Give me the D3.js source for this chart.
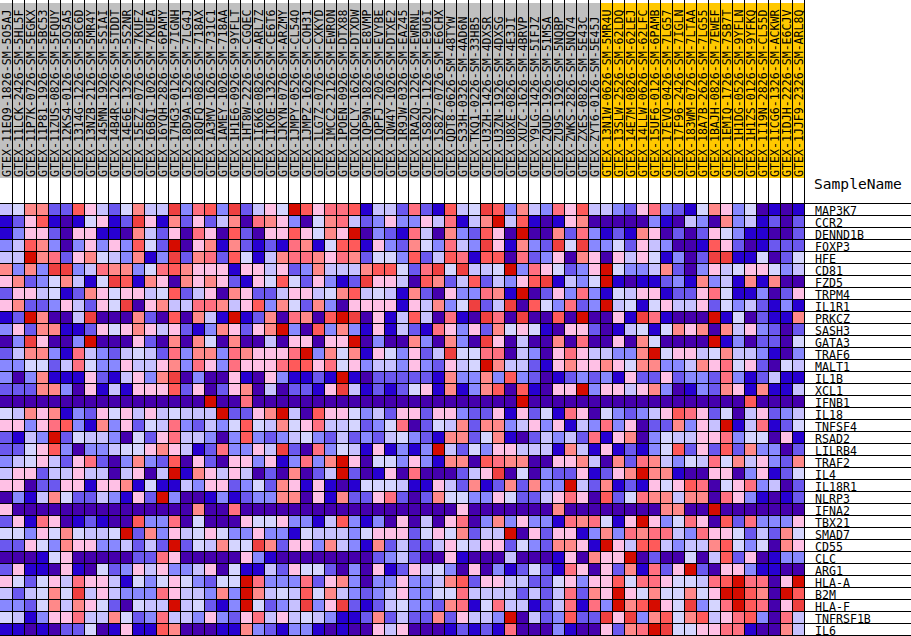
<!DOCTYPE html>
<html>
<head>
<meta charset="utf-8">
<script src="https://d3js.org/d3.v7.min.js"></script>
<style>
	body { margin: 0; background: #fff; }
	svg { display: block; }
	text { font-family: "DejaVu Sans Mono", monospace; fill: #000; }
</style>
</head>
<body>
<script>
// first group of samples, grey header
var samplesA = ["GTEX-11EQ9-1826-SM-5O5AJ","GTEX-11LCK-2426-SM-5HL5F","GTEX-11P7K-0726-SM-5EGKX","GTEX-11P81-1926-SM-5BC53","GTEX-11ZUS-0826-SM-5FQUY","GTEX-12KS4-0126-SM-5O5A5","GTEX-1314G-1226-SM-5BC6D","GTEX-13NZB-2126-SM-5MR4Y","GTEX-145MN-1926-SM-5SIAI","GTEX-14B4R-1226-SM-5TDDT","GTEX-14E6E-1326-SM-5S2NR","GTEX-15EZZ-0726-SM-7KUFZ","GTEX-16BQI-1026-SM-7KUEA","GTEX-16YQH-2826-SM-6PAMY","GTEX-17HG3-0126-SM-7IGNH","GTEX-18D9A-1526-SM-7LG4J","GTEX-18QFQ-0826-SM-718AX","GTEX-1A3MV-1626-SM-731C1","GTEX-1AMEY-1026-SM-718AA","GTEX-1H1E6-0926-SM-9YFLT","GTEX-1HT8W-2226-SM-CGQEC","GTEX-1I6K6-0826-SM-ARL7Z","GTEX-1IKOE-1326-SM-CE6T6","GTEX-1JKYN-0726-SM-ARZMY","GTEX-1JMPY-0526-SM-CL54O","GTEX-1JMPZ-1626-SM-COH31","GTEX-1LG7Z-0726-SM-CXKYD","GTEX-1MCC2-2126-SM-EWRON","GTEX-1POEN-0926-SM-DTX88","GTEX-1QCLY-1626-SM-DTXDW","GTEX-1QP9N-1826-SM-E8VMP","GTEX-1QPFJ-2026-SM-EVYBE","GTEX-1QW4Y-1026-SM-DTXE2","GTEX-1R9JW-0326-SM-EAZ45","GTEX-1RAZQ-1226-SM-EWRNL","GTEX-1S82U-1126-SM-E9U6I","GTEX-1S827-0726-SM-E6CHX","GTEX-QDT8-0626-SM-48TYW","GTEX-S33H-0326-SM-4AD6N","GTEX-TKQ1-0226-SM-33HB5","GTEX-U3ZH-1426-SM-4DXSR","GTEX-U3ZN-1926-SM-4DXSG","GTEX-U8XE-0826-SM-4E3JI","GTEX-XUZC-1626-SM-4BRVP","GTEX-Y9LG-1426-SM-5IFJZ","GTEX-ZQUD-1926-SM-51MSA","GTEX-ZU9S-1926-SM-5NQBP","GTEX-ZWKS-2826-SM-5NQ74","GTEX-ZXES-0826-SM-5E43C","GTEX-ZYT6-0126-SM-5E45J"];

// second group, orange header
var samplesB = ["GTEX-13N1W-0626-SM-5MR4U","GTEX-13SLW-2526-SM-62LDQ","GTEX-14E7M-0826-SM-62LEJ","GTEX-14LLW-0626-SM-62LFC","GTEX-15UF6-0126-SM-6PAMB","GTEX-17EVQ-0426-SM-7LG57","GTEX-17F96-2426-SM-7IGLN","GTEX-183WM-0726-SM-7LTAA","GTEX-18A7B-2626-SM-7LG55","GTEX-1BAJH-0826-SM-7EWEF","GTEX-1EMIQ-1726-SM-7SB7T","GTEX-1H1DG-0526-SM-9YFLN","GTEX-1H1ZS-0126-SM-9YFKQ","GTEX-1I19N-2826-SM-CL55D","GTEX-1ICG6-1326-SM-ACKWR","GTEX-1IDJH-2226-SM-E6CJV","GTEX-1JJF9-2326-SM-ARL8Q"];

var genes = ["MAP3K7","CCR2","DENND1B","FOXP3","HFE","CD81","FZD5","TRPM4","IL1R1","PRKCZ","SASH3","GATA3","TRAF6","MALT1","IL1B","XCL1","IFNB1","IL18","TNFSF4","RSAD2","LILRB4","TRAF2","IL4","IL18R1","NLRP3","IFNA2","TBX21","SMAD7","CD55","CLC","ARG1","HLA-A","B2M","HLA-F","TNFRSF1B","IL6"];

// colour level per cell, one hex digit per sample (0 = lowest, B = highest)
var levels = [
	"45772296425744A3893A246 5B968891442821945A9374 3869443268321576350101",
	"12691015612A61726247087 630578423633648147B491 0167000003104307341202",
	"13662066110742608609206 696576B0321840732960B0 0728312176020265311002",
	"34973036363952B06717212 18715991632753843A6173 2A5A335264300196201222",
	"44B78267543713A27829514 788768725539249819908 2 3607606465130 2AA115025",
	"7373AA34877358976661664 6237444799528A5A445B38 65236B5334720364566534",
	"672357415A9176076762165 9526312A66409724924369 A1435B1011231734171700",
	"26645127656645924607622 46645794541720633871B0 263831546612268511 3026",
	"6722364265A067448874693 7527306666164735A24A09 53823B4515644625342131",
	"12B7004A00072090741B127 08709BA0614940810A80A0 090B0061A8100 0B1502117",
	"36277112656764621376267 B3093731614218636275 65 106620145157670746 3202",
	"03A6003B00062070750700 4 066066B0300730730A6040 0708006075 0000B1302205",
	"24773184324542837738766 68B37571653624A5588043 068644337B566457443103",
	"33552485336446738638666 89968563443632645B7442 167667657733476856 2054",
	"30371116214637A03006106 31121B1022222173373932 012323162262332831 2411",
	"22277306141666926026704 02216A41212561713790 91 066B366467301327617114",
	"00000000000000000B00800 0000000000000000 0000B0 000000000000000009 0000",
	"547671326564645444B2267 B40966534266266322 6162 518605323469862504 6234",
	"66368931736254832435954 75684452358025472773 46 361438360227364B148125",
	"2143B25443052684430393 2 345324232453217725 7102 434281670354466835 5061",
	"22569303345567641283364 A208354161313B425366 44 417416121359262927 3302",
	"34564268203732906206636 13837B60553631770987 70 066740728743548574 6327",
	"46624464404604B17646402 07024B201608000246A0 50 32261267B771006603 6125",
	"66022661667151143662352 76161015554116427127 27 33B427121656980568 3402",
	"03147522431 62B300131233 7706172268202755336522 468609258774770863 1012",
	"60000000000000007008000 0000000000000006 000000 070000000077 00B0000000",
	"26186012100933805000655 6331493130604068037363 31878516B6358609283336",
	"5536575445B273645653363 3154443566625657244B06 266137387884386652 4275",
	"22653766334242B254755A7 266374317242246546 6253 27761B64994344795350 76",
	"00015600000228600000631 000000002342006100 0400 0160766B020050492601 33",
	"26110610523646334605114 265520306126453060 3125 218606271826B2066311 00",
	"65256486641535653255B83 338267303363347926 6442 2563669588655489B880 6B",
	"424575A4643338644373B74 549574323463355844 4424 248276B65755756BB970 B9",
	"33257476520544B45213B52 34A36A212453327815 8441 248183B79B65A358B980 6A",
	"54136684475238443632684 645431127242272644 3B04 23922A6A379579468930 84",
	"11010225016119700011732 133101006460001212 1800 031006278BA55668810074"
];

var palette = ["#4500AD","#2700D1","#6B58EF","#8888FF","#C7C1FF","#D5D5FF","#FFC0E5","#FF8989","#FF7080","#FF5A5A","#EF4040","#D60C00"];

var samples = samplesA.concat(samplesB);

var cells = [];
genes.forEach(function(g, r) {
	var row = levels[r].replace(/\s/g, "");
	samples.forEach(function(s, c) {
		cells.push({gene: g, sample: s, level: parseInt(row[c], 16)});
	});
});

var svg = d3.select("body")
	.append("svg")
	.attr("width", 911)
	.attr("height", 636);

var x = d3.scaleBand().domain(samples).range([0, 804]);
var y = d3.scaleBand().domain(genes).range([203, 635]);
var color = d3.scaleOrdinal().domain(d3.range(12)).range(palette);

// header boxes with the rotated sample names
var header = svg.selectAll("g.sample")
	.data(samples)
	.enter()
	.append("g")
	.attr("class", "sample")
	.attr("transform", function(d) { return "translate(" + x(d) + ",0)"; });

header.append("rect")
	.attr("y", 3)
	.attr("width", x.bandwidth())
	.attr("height", 175)
	.attr("fill", function(d) { return samplesB.indexOf(d) < 0 ? "#C0C0C0" : "#FFC800"; });

header.append("text")
	.attr("transform", "translate(11,177) rotate(-90)")
	.attr("font-size", 11.6)
	.text(function(d) { return d; });

// heat cells
svg.selectAll("rect.cell")
	.data(cells)
	.enter()
	.append("rect")
	.attr("class", "cell")
	.attr("x", function(d) { return x(d.sample); })
	.attr("y", function(d) { return y(d.gene); })
	.attr("width", x.bandwidth())
	.attr("height", y.bandwidth())
	.attr("fill", function(d) { return color(d.level); });

// column lines, skip the very first edge
svg.selectAll("line.col")
	.data(samples.slice(1).concat(["end"]))
	.enter()
	.append("line")
	.attr("class", "col")
	.attr("x1", function(d) { return (d == "end" ? 804 : x(d)) + 0.5; })
	.attr("x2", function(d) { return (d == "end" ? 804 : x(d)) + 0.5; })
	.attr("y1", 0)
	.attr("y2", 636)
	.attr("stroke", "#000");

// row lines run on under the gene names
svg.selectAll("line.row")
	.data(genes)
	.enter()
	.append("line")
	.attr("class", "row")
	.attr("x1", 0)
	.attr("x2", 911)
	.attr("y1", function(d) { return y(d) + 0.5; })
	.attr("y2", function(d) { return y(d) + 0.5; })
	.attr("stroke", "#000");

svg.append("line")
	.attr("x1", 0)
	.attr("x2", 911)
	.attr("y1", 635.5)
	.attr("y2", 635.5)
	.attr("stroke", "#000");

svg.selectAll("text.gene")
	.data(genes)
	.enter()
	.append("text")
	.attr("class", "gene")
	.attr("x", 815)
	.attr("y", function(d) { return y(d) + y.bandwidth(); })
	.attr("font-size", 11.6)
	.text(function(d) { return d; });

svg.append("text")
	.attr("x", 814)
	.attr("y", 189)
	.attr("font-size", 14.6)
	.text("SampleName");
</script>
</body>
</html>
